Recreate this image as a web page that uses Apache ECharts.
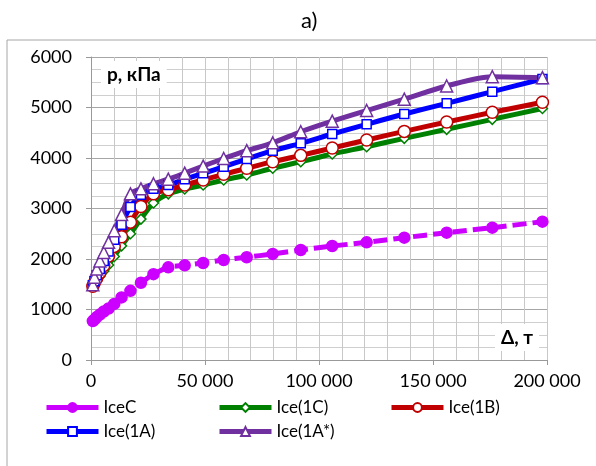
<!DOCTYPE html>
<html>
<head>
<meta charset="utf-8">
<title>a)</title>
<script src="https://cdn.jsdelivr.net/npm/echarts@6/dist/echarts.min.js"></script>
<style>
    html, body {margin: 0; padding: 0; background: #fff;}
    #main {width: 596px; height: 466px;}
</style>
</head>
<body>
<div id="main"></div>
<script>
// водоизмещение, т (ось X)
var deltaData = [800, 1500, 2500, 3900, 5600, 7700, 10200, 13400, 17300, 21900, 27400, 33900,
    41100, 49200, 58200, 68300, 79700, 92000, 105800, 120900, 137400, 156000, 176000, 198000];
// давление, кПа
var iceC = [770, 800, 850, 900, 960, 1020, 1110, 1240, 1370, 1530, 1700, 1835,
    1875, 1920, 1980, 2035, 2100, 2178, 2257, 2330, 2422, 2521, 2620, 2739];
var ice1C = [1450, 1500, 1570, 1660, 1760, 1880, 2050, 2260, 2500, 2790, 3110, 3290,
    3385, 3465, 3564, 3663, 3796, 3927, 4079, 4224, 4389, 4568, 4766, 4980];
var ice1B = [1460, 1530, 1620, 1730, 1870, 2060, 2250, 2440, 2730, 3040, 3290, 3370,
    3465, 3564, 3677, 3796, 3927, 4052, 4198, 4356, 4527, 4713, 4905, 5103];
var ice1A = [1480, 1560, 1680, 1800, 1960, 2150, 2380, 2680, 3030, 3270, 3390, 3465,
    3578, 3696, 3828, 3980, 4145, 4290, 4475, 4667, 4871, 5083, 5313, 5564];
var ice1AS = [1490, 1640, 1800, 1960, 2130, 2330, 2560, 2880, 3290, 3390, 3490, 3580,
    3700, 3840, 3990, 4145, 4300, 4520, 4730, 4940, 5165, 5425, 5610, 5590];
var names = ['IceC', 'Ice(1C)', 'Ice(1B)', 'Ice(1A)', 'Ice(1A*)'];

var font = 'Lato, "Open Sans", sans-serif';

//склеиваем x и y в точки
var pairs = function (ys) {
    var out = [];
    ys.forEach(function (v, i) {
        out.push([deltaData[i], v]);
    });
    return out;
};

//подписи оси X: 50 000
var fmtX = function (v) {
    return String(v).replace(/\B(?=(\d{3})+(?!\d))/g, ' ');
};
//подписи оси Y без разделителей
var fmtY = function (v) {
    return String(v);
};

var lineSeries = function (name, ys, color, symbol, size, fill, dash) {
    return {
        name: name,
        type: 'line',
        data: pairs(ys),
        smooth: 0.3,
        symbol: symbol,
        symbolSize: size,
        showAllSymbol: true,
        lineStyle: {color: color, width: 5, type: dash || 'solid'},
        itemStyle: {color: fill, borderColor: color, borderWidth: 1.5}
    };
};

var legendAt = function (name, left, top) {
    return {
        data: [name],
        left: left,
        top: top,
        itemWidth: 52,
        itemHeight: 11,
        itemGap: 6,
        selectedMode: false,
        lineStyle: {type: 'solid', width: 5},
        textStyle: {fontFamily: font, fontSize: 17, color: '#000'}
    };
};

var box = document.getElementById('main');
var myChart = echarts.init(box);

var option = {
    animation: false,
    textStyle: {fontFamily: font},
    grid: {left: 91, right: 49, top: 57, bottom: 106},
    legend: [
        legendAt(names[0], 39, 394),
        legendAt(names[1], 212, 394),
        legendAt(names[2], 384, 394),
        legendAt(names[3], 39, 418),
        legendAt(names[4], 212, 418)
    ],
    xAxis: {
        type: 'value',
        min: 0,
        max: 200000,
        interval: 50000,
        axisLine: {show: true, lineStyle: {color: '#999'}},
        axisTick: {show: true, length: 5, lineStyle: {color: '#999'}},
        axisLabel: {formatter: fmtX, fontSize: 18, color: '#000', margin: 12},
        splitLine: {show: true, lineStyle: {color: '#c8c8c8'}},
        minorTick: {show: false, splitNumber: 5},
        minorSplitLine: {show: true, lineStyle: {color: '#c8c8c8'}}
    },
    yAxis: {
        type: 'value',
        min: 0,
        max: 6000,
        interval: 1000,
        axisLine: {show: true, lineStyle: {color: '#999'}},
        axisTick: {show: true, length: 5, lineStyle: {color: '#999'}},
        axisLabel: {formatter: fmtY, fontSize: 18, color: '#000', margin: 19},
        splitLine: {show: true, lineStyle: {color: '#a6a6a6'}},
        minorTick: {show: false, splitNumber: 4},
        minorSplitLine: {show: true, lineStyle: {color: '#cfcfcf'}}
    },
    graphic: [
        {
            type: 'rect', silent: true, z: -1,
            shape: {x: 7, y: 40, width: 600, height: 440},
            style: {fill: null, stroke: '#a6a6a6', lineWidth: 1}
        },
        {
            type: 'text', left: 301, top: 10,
            style: {text: 'a)', font: '22px ' + font, fill: '#000'}
        },
        {
            type: 'text', left: 101, top: 61, z: 10,
            style: {
                text: 'р, кПа', font: 'bold 19px ' + font, fill: '#000',
                backgroundColor: '#fff', padding: [4, 6, 4, 6]
            }
        },
        {
            type: 'text', left: 495, top: 324, z: 10,
            style: {
                text: 'Δ, т', font: 'bold 19px ' + font, fill: '#000',
                backgroundColor: '#fff', padding: [4, 6, 4, 6]
            }
        }
    ],
    series: [
        lineSeries(names[0], iceC, '#CC00FF', 'circle', 11, '#CC00FF', [14, 6]),
        lineSeries(names[1], ice1C, '#008000', 'diamond', 10, '#fff'),
        lineSeries(names[2], ice1B, '#C00000', 'circle', 12, '#fff'),
        lineSeries(names[3], ice1A, '#0000FF', 'rect', 9, '#fff'),
        lineSeries(names[4], ice1AS, '#7030A0', 'triangle', 12, '#fff')
    ]
};

myChart.setOption(option);
</script>
</body>
</html>
